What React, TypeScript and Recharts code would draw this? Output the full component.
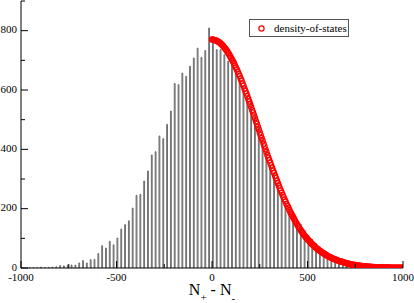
import React from 'react';
import { ComposedChart, Bar, Scatter, XAxis, YAxis, Legend } from 'recharts';

// Histogram bin centres (N+ - N-) and counts
const binCenters = [
  -995, -975, -955, -935, -915, -895, -875, -855, -835, -815,
  -795, -775, -755, -735, -715, -695, -675, -655, -635, -615,
  -595, -575, -555, -535, -515, -495, -475, -455, -435, -415,
  -395, -375, -355, -335, -315, -295, -275, -255, -235, -215,
  -195, -175, -155, -135, -115, -95, -75, -55, -35, -15,
  5, 25, 45, 65, 85, 105, 125, 145, 165, 185,
  205, 225, 245, 265, 285, 305, 325, 345, 365, 385,
  405, 425, 445, 465, 485, 505, 525, 545, 565, 585,
  605, 625, 645, 665, 685, 705, 725, 745, 765, 785,
  805, 825, 845, 865, 885, 905, 925, 945, 965, 985,
];
const binCounts = [
  1, 0, 1, 1, 1, 3, 1, 2, 3, 4,
  8, 7, 10, 10, 10, 17, 25, 17, 28, 29,
  49, 75, 67, 90, 78, 101, 131, 146, 159, 202,
  245, 248, 293, 327, 381, 392, 445, 436, 484, 529,
  622, 618, 657, 646, 680, 708, 741, 710, 733, 809,
  770, 736, 736, 719, 697, 690, 668, 640, 612, 580,
  562, 515, 478, 440, 395, 345, 318, 285, 255, 215,
  205, 180, 165, 148, 127, 110, 96, 82, 66, 50,
  38, 30, 22, 17, 12, 9, 6, 4, 3, 2,
  2, 1, 1, 1, 0, 1, 0, 0, 0, 0,
];

// density-of-states curve (x, value)
const dosX = [
  0, 5, 10, 15, 20, 25, 30, 35, 40, 45, 50, 55, 60, 65, 70, 75, 80, 85, 90, 95,
  100, 105, 110, 115, 120, 125, 130, 135, 140, 145, 150, 155, 160, 165, 170, 175, 180, 185, 190, 195,
  200, 205, 210, 215, 220, 225, 230, 235, 240, 245, 250, 255, 260, 265, 270, 275, 280, 285, 290, 295,
  300, 305, 310, 315, 320, 325, 330, 335, 340, 345, 350, 355, 360, 365, 370, 375, 380, 385, 390, 395,
  400, 405, 410, 415, 420, 425, 430, 435, 440, 445, 450, 455, 460, 465, 470, 475, 480, 485, 490, 495,
  500, 505, 510, 515, 520, 525, 530, 535, 540, 545, 550, 555, 560, 565, 570, 575, 580, 585, 590, 595,
  600, 605, 610, 615, 620, 625, 630, 635, 640, 645, 650, 655, 660, 665, 670, 675, 680, 685, 690, 695,
  700, 705, 710, 715, 720, 725, 730, 735, 740, 745, 750, 755, 760, 765, 770, 775, 780, 785, 790, 795,
  800, 805, 810, 815, 820, 825, 830, 835, 840, 845, 850, 855, 860, 865, 870, 875, 880, 885, 890, 895,
  900, 905, 910, 915, 920, 925, 930, 935, 940, 945, 950, 955, 960, 965, 970, 975, 980, 985, 990, 995,
  1000,
];
const dosY = [
  770, 770, 769, 768, 767, 766, 764, 762, 760, 757, 754, 751, 747, 743, 739, 735, 730, 725, 720, 714,
  708, 702, 696, 690, 683, 676, 669, 662, 654, 647, 639, 631, 622, 614, 605, 597, 588, 579, 570, 561,
  552, 543, 533, 524, 514, 505, 495, 486, 476, 467, 457, 448, 438, 429, 419, 410, 400, 391, 381, 372,
  363, 355, 346, 337, 328, 320, 311, 303, 294, 286, 277, 269, 261, 254, 246, 239, 231, 224, 216, 210,
  203, 196, 189, 183, 177, 171, 165, 159, 153, 148, 142, 137, 132, 127, 122, 118, 113, 109, 105, 101,
  97, 94, 90, 87, 83, 80, 77, 74, 71, 68, 65, 63, 60, 58, 56, 53, 51, 49, 47, 45,
  43, 41, 39, 37.5, 36, 34.5, 33, 31.5, 30, 29, 28, 26.5, 25, 24, 23, 22, 21, 20, 19, 18,
  17, 16, 15, 14.5, 14, 13, 12, 11.5, 11, 10.5, 10, 9.5, 9, 8.5, 8, 7.5, 7, 6.5, 6, 5.8,
  5.5, 5.2, 5, 4.8, 4.5, 4.2, 4, 3.8, 3.5, 3.2, 3, 3, 3, 2.8, 2.5, 2.2, 2, 2, 2, 2,
  2, 1.8, 1.5, 1.5, 1.5, 1.5, 1.5, 1.2, 1, 1, 1, 1, 1, 1, 1, 1, 1, 1, 1, 1,
  1,
];

const xTicks = [-1000, -750, -500, -250, 0, 250, 500, 750, 1000];
const yTicks = [0, 100, 200, 300, 400, 500, 600, 700, 800, 900];
const legendLabel = 'density-of-states';

const histData = binCenters.map((x, i) => ({ x, count: binCounts[i] }));
const dosData = dosX.map((x, i) => ({ x, dos: dosY[i] }));

const FONT = "'Liberation Serif', 'Times New Roman', Times, serif";
const TICK_COLOR = '#000';

const BottomTick = (props: any) => {
  const { x, y, payload } = props;
  const major = payload.value % 500 === 0;
  return (
    <g>
      <line x1={x} x2={x} y1={y} y2={y - (major ? 7 : 4)} stroke={TICK_COLOR} strokeWidth={1} />
      {major && (
        <text x={x} y={y + 12.5} textAnchor="middle" fontFamily={FONT} fontSize={11} fill="#000">
          {payload.value}
        </text>
      )}
    </g>
  );
};

const TopTick = (props: any) => {
  const { x, y, payload } = props;
  const major = payload.value % 500 === 0;
  return <line x1={x} x2={x} y1={y} y2={y + (major ? 7 : 4)} stroke="#444" strokeWidth={1} />;
};

const LeftTick = (props: any) => {
  const { x, y, payload } = props;
  const major = payload.value % 200 === 0;
  return (
    <g>
      <line x1={x} x2={x + (major ? 7 : 4)} y1={y} y2={y} stroke={TICK_COLOR} strokeWidth={1} />
      {major && (
        <text x={x - 4} y={y + 2.5} textAnchor="end" fontFamily={FONT} fontSize={payload.value === 0 ? 10.5 : 11} fill="#000">
          {payload.value}
        </text>
      )}
    </g>
  );
};

const RightTick = (props: any) => {
  const { x, y, payload } = props;
  const major = payload.value % 200 === 0;
  return <line x1={x} x2={x - (major ? 7 : 4)} y1={y} y2={y} stroke={TICK_COLOR} strokeWidth={1} />;
};

const XTitle = (props: any) => {
  const vb = props.viewBox || {};
  const cx = (vb.x ?? 0) + (vb.width ?? 0) / 2;
  const by = (vb.y ?? 0) + 27;
  return (
    <text x={cx} y={by} textAnchor="middle" fontFamily={FONT} fontSize={16} fill="#000">
      N
      <tspan fontSize={11} dy={6}>+</tspan>
      <tspan dy={-6}> - N</tspan>
      <tspan fontSize={11} dy={7}>-</tspan>
    </text>
  );
};

const LegendBox = () => (
  <div
    style={{
      width: 100,
      height: 18,
      boxSizing: 'border-box',
      border: '1px solid #555',
      background: '#fff',
      display: 'flex',
      alignItems: 'center',
      fontFamily: FONT,
      fontSize: 11,
      color: '#000',
      lineHeight: '16px',
    }}
  >
    <svg width={24} height={16} style={{ flex: 'none' }}>
      <circle cx={11.5} cy={8.5} r={2.6} fill="none" stroke="#ff0000" strokeWidth={1.2} />
    </svg>
    <span style={{ whiteSpace: 'nowrap' }}>{legendLabel}</span>
  </div>
);

const RedRing = (props: any) => {
  const { cx, cy } = props;
  if (cx == null || cy == null) return null;
  return <circle cx={cx} cy={cy} r={2.6} fill="none" stroke="#ff0000" strokeWidth={1.2} />;
};

export default function App() {
  return (
    <div style={{ position: 'absolute', left: 0, top: 0, width: 414, height: 303, background: '#fff' }}>
      <ComposedChart
        width={414}
        height={303}
        data={histData}
        margin={{ top: 1, right: 11, bottom: 0, left: 0 }}
      >
        <XAxis
          xAxisId="b"
          dataKey="x"
          type="number"
          domain={[-1000, 1000]}
          ticks={xTicks}
          interval={0}
          allowDataOverflow
          orientation="bottom"
          height={35}
          tickSize={0}
          tickMargin={0}
          tickLine={false}
          axisLine={{ stroke: '#000', strokeWidth: 1 }}
          tick={<BottomTick />}
          label={<XTitle />}
        />
        <XAxis
          xAxisId="t"
          dataKey="x"
          type="number"
          domain={[-1000, 1000]}
          ticks={xTicks}
          interval={0}
          allowDataOverflow
          orientation="top"
          height={0}
          tickSize={0}
          tickMargin={0}
          tickLine={false}
          axisLine={{ stroke: '#777', strokeWidth: 1.5 }}
          tick={<TopTick />}
        />
        <YAxis
          yAxisId="l"
          type="number"
          domain={[0, 900]}
          ticks={yTicks}
          interval={0}
          allowDataOverflow
          orientation="left"
          width={21}
          tickSize={0}
          tickMargin={0}
          tickLine={false}
          axisLine={{ stroke: '#000', strokeWidth: 1 }}
          tick={<LeftTick />}
        />
        <YAxis
          yAxisId="r"
          type="number"
          domain={[0, 900]}
          ticks={yTicks}
          interval={0}
          allowDataOverflow
          orientation="right"
          width={0}
          tickSize={0}
          tickMargin={0}
          tickLine={false}
          axisLine={{ stroke: '#000', strokeWidth: 1 }}
          tick={<RightTick />}
        />
        <Bar
          xAxisId="b"
          yAxisId="l"
          dataKey="count"
          barSize={3}
          fill="#e8e8e8"
          stroke="#505050"
          strokeWidth={0.8}
          isAnimationActive={false}
        />
        <Scatter
          xAxisId="b"
          yAxisId="l"
          data={dosData}
          dataKey="dos"
          name={legendLabel}
          shape={<RedRing />}
          isAnimationActive={false}
        />
        <Legend
          layout="horizontal"
          verticalAlign="middle"
          align="center"
          content={<LegendBox />}
          wrapperStyle={{ position: 'absolute', left: 249, top: 19, width: 100, height: 18 }}
        />
      </ComposedChart>
    </div>
  );
}
